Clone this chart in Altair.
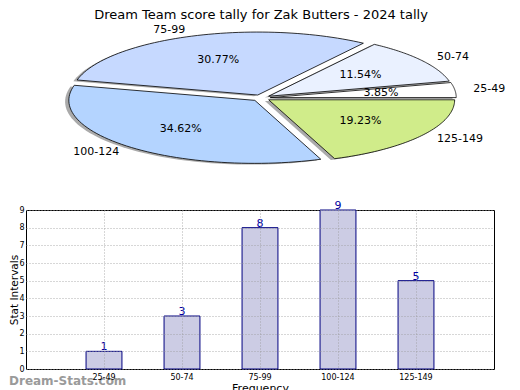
import altair as alt
import pandas as pd

# ---- data ----
categories = ["25-49", "50-74", "75-99", "100-124", "125-149"]
counts = [1, 3, 8, 9, 5]
slice_colors = ["#ffffff", "#eaf1ff", "#c6d9ff", "#b4d4ff", "#d0ec8a"]
title_text = "Dream Team score tally for Zak Butters - 2024 tally"
x_title = "Frequency"
y_title = "Stat Intervals"
watermark_text = "Dream-Stats.com"
y_ticks = [0, 1, 2, 3, 4, 5, 6, 7, 8, 9]

df = pd.DataFrame({"cat": categories, "n": counts, "idx": list(range(len(categories)))})

EXPLODE = 0.05
N = 60
FONT = "DejaVu Sans"

# pie panel geometry (unit circle scaled to an ellipse by the scales)
PIE_W, PIE_H = 480, 180
CX, CY, RX, RY = 235, 90, 186, 63
xdom = [-CX / RX, (PIE_W - CX) / RX]
ydom = [-(PIE_H - CY) / RY, CY / RY]
xs = alt.Scale(domain=xdom, nice=False, zero=False)
ys = alt.Scale(domain=ydom, nice=False, zero=False)

pie_base = (
    alt.Chart(df)
    .transform_joinaggregate(total="sum(n)")
    .transform_window(cum="sum(n)", sort=[alt.SortField("idx")], frame=[None, 0])
    .transform_calculate(
        a0="2*PI*(datum.cum - datum.n)/datum.total",
        a1="2*PI*datum.cum/datum.total",
    )
    .transform_calculate(mid="(datum.a0 + datum.a1)/2")
    .transform_calculate(
        ox=f"{EXPLODE}*cos(datum.mid)",
        oy=f"{EXPLODE}*sin(datum.mid)",
        pct="format(datum.n/datum.total, '.2%')",
    )
)

poly_base = (
    pie_base.transform_calculate(k=f"sequence(0, {N + 3})")
    .transform_flatten(["k"])
    .transform_calculate(
        t=f"datum.a0 + (datum.a1 - datum.a0)*clamp(datum.k - 1, 0, {N})/{N}",
        ctr=f"datum.k == 0 || datum.k == {N + 2}",
    )
    .transform_calculate(
        px="datum.ox + (datum.ctr ? 0 : cos(datum.t))",
        py="datum.oy + (datum.ctr ? 0 : sin(datum.t))",
    )
)

shadow = poly_base.transform_calculate(
    sx="datum.px - 0.02", sy="datum.py - 0.02"
).mark_line(filled=True, fill="#555555", fillOpacity=0.5, strokeWidth=0).encode(
    x=alt.X("sx:Q", scale=xs, axis=None),
    y=alt.Y("sy:Q", scale=ys, axis=None),
    detail="cat:N",
    order="k:Q",
)

slices = poly_base.mark_line(filled=True, stroke="#000000", strokeWidth=0.8).encode(
    x=alt.X("px:Q", scale=xs, axis=None),
    y=alt.Y("py:Q", scale=ys, axis=None),
    color=alt.Color("cat:N", scale=alt.Scale(domain=categories, range=slice_colors), legend=None),
    order="k:Q",
)

lab_base = pie_base.transform_calculate(
    lx="datum.ox + 1.1*cos(datum.mid)",
    ly="datum.oy + 1.1*sin(datum.mid)",
    qx="datum.ox + 0.6*cos(datum.mid)",
    qy="datum.oy + 0.6*sin(datum.mid)",
)
lab_right = lab_base.transform_filter("cos(datum.mid) >= 0").mark_text(
    align="left", baseline="middle", fontSize=11, font=FONT, color="#000000"
).encode(x=alt.X("lx:Q", scale=xs, axis=None), y=alt.Y("ly:Q", scale=ys, axis=None), text="cat:N")
lab_left = lab_base.transform_filter("cos(datum.mid) < 0").mark_text(
    align="right", baseline="middle", fontSize=11, font=FONT, color="#000000"
).encode(x=alt.X("lx:Q", scale=xs, axis=None), y=alt.Y("ly:Q", scale=ys, axis=None), text="cat:N")
pct_lab = lab_base.mark_text(
    align="center", baseline="middle", fontSize=11, font=FONT, color="#000000"
).encode(x=alt.X("qx:Q", scale=xs, axis=None), y=alt.Y("qy:Q", scale=ys, axis=None), text="pct:N")

title = alt.Chart(pd.DataFrame({"t": [title_text]})).mark_text(
    align="center", baseline="top", fontSize=13, font=FONT, color="#000000"
).encode(text="t:N", x=alt.value(CX), y=alt.value(1))

pie = alt.layer(shadow, slices, lab_right, lab_left, pct_lab, title).properties(
    width=PIE_W, height=PIE_H, view=alt.ViewBackground(stroke=None)
)

# ---- bar panel ----
BAR_W, BAR_H = 468, 159
grid_kw = dict(gridDash=[1, 2], gridColor="#9a9a9a", gridWidth=0.8)
xb = alt.X(
    "cat:N",
    sort=categories,
    scale=alt.Scale(paddingInner=0.54, paddingOuter=0.77),
    axis=alt.Axis(
        title=x_title, labelAngle=0, grid=True, bandPosition=0.5,
        tickSize=0, domain=False,
        labelFontSize=8, titleFontSize=11, labelPadding=4, titlePadding=1,
        labelFont=FONT, titleFont=FONT, labelColor="#000000", titleColor="#000000",
        titleFontWeight="normal", zindex=1, **grid_kw,
    ),
)
yb = alt.Y(
    "n:Q",
    scale=alt.Scale(domain=[0, 9], nice=False),
    axis=alt.Axis(
        title=y_title, values=y_ticks, format="d", grid=True,
        tickSize=0, domain=False, labelOverlap=False, labelFlush=False,
        labelFontSize=8, titleFontSize=10.5, labelPadding=2, titleX=-7,
        labelFont=FONT, titleFont=FONT, labelColor="#000000", titleColor="#000000",
        titleFontWeight="normal", zindex=1, **grid_kw,
    ),
)

bars = alt.Chart(df).mark_bar(fill="#ccccE4", stroke="#000080", strokeWidth=1).encode(x=xb, y=yb)
vals = alt.Chart(df).mark_text(
    baseline="bottom", dy=1, fontSize=11, font=FONT, color="#0000a0"
).encode(x=xb, y=yb, text="n:Q")
wm = alt.Chart(pd.DataFrame({"w": [watermark_text]})).mark_text(
    align="left", baseline="middle", fontSize=12, fontWeight="bold", font=FONT, color="#9a9a9a"
).encode(text="w:N", x=alt.value(-17), y=alt.value(171))

barchart = alt.layer(wm, bars, vals).properties(
    width=BAR_W, height=BAR_H, view=alt.ViewBackground(stroke="#000000", strokeWidth=1)
)

chart = alt.vconcat(pie, barchart, spacing=22, bounds="flush").configure(padding=0, font=FONT)

chart.save("out.html", embed_options={"renderer": "svg", "actions": False})
